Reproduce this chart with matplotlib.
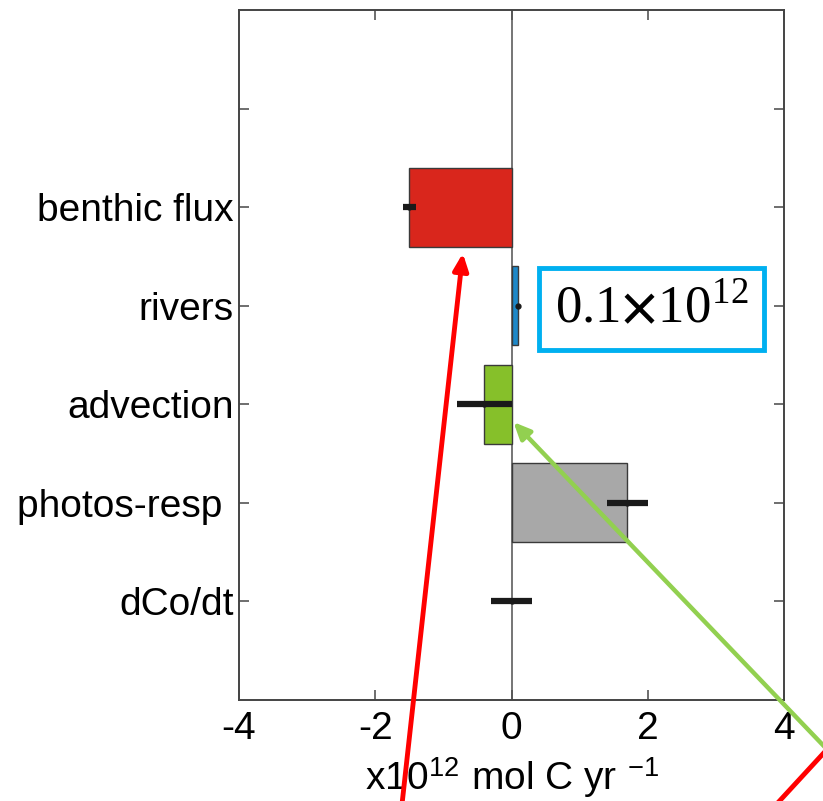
import matplotlib
matplotlib.use("Agg")
import matplotlib.pyplot as plt

# categories from top to bottom (first slot is an empty tick)
labels = ['', 'benthic flux', 'rivers', 'advection', 'photos-resp ', 'dCo/dt']
positions = [1, 2, 3, 4, 5, 6]

# bars (x10^12 mol C / yr)
bar_pos = [2, 3, 4, 5]
bar_vals = [-1.5, 0.1, -0.4, 1.7]
bar_colors = ['#d9261c', '#1e88c8', '#86c02a', '#a8a8a8']

# error bars
err_pos = [2, 3, 4, 5, 6]
err_center = [-1.5, 0.1, -0.4, 1.7, 0.0]
err_half = [0.1, 0.0, 0.4, 0.3, 0.3]

plt.rcParams['font.family'] = ['Liberation Sans', 'DejaVu Sans']
plt.rcParams['axes.unicode_minus'] = False
plt.rcParams['mathtext.fontset'] = 'stix'

fig = plt.figure(figsize=(8.23, 8.01), dpi=100)
ax = fig.add_axes([239 / 823, 1 - 700 / 801, 545 / 823, 690 / 801])

ax.axvline(0, color='#6a6a6a', lw=1.3, zorder=1)
ax.barh(bar_pos, bar_vals, height=0.8, color=bar_colors,
        edgecolor='#3a3a3a', linewidth=1.0, zorder=2)
ax.errorbar(err_center, err_pos, xerr=err_half, fmt='o', ms=3.5,
            color='#1a1a1a', ecolor='#1a1a1a', elinewidth=4.5, capsize=0, zorder=3)

ax.set_xlim(-4, 4)
ax.set_ylim(7, 0)
ax.set_xticks([-4, -2, 0, 2, 4])
ax.set_yticks(positions)
ax.set_yticklabels(labels)
ax.tick_params(direction='in', length=7, width=1.2, color='#555555',
               top=True, right=True, labelsize=28, pad=4)
ax.tick_params(axis='x', pad=8)
for s in ax.spines.values():
    s.set_color('#444444')
    s.set_linewidth(1.4)

ax.set_xlabel(r'x10$^{\mathregular{12}}$ mol C yr $^{\mathregular{-1}}$',
              fontsize=28, labelpad=6)

# callout box
ax.text(2.06, 3.03, r'0.1$\mathbf{\times}$10$^{\mathregular{12}}$', fontsize=38,
        family='Liberation Serif', ha='center', va='center', zorder=5,
        bbox=dict(boxstyle='square,pad=0.3', facecolor='white',
                  edgecolor='#00b0f0', linewidth=3.5))

# arrows from the surrounding slide
ax.annotate('', xy=(-0.71, 2.44), xytext=(-1.63, 8.2), annotation_clip=False,
            arrowprops=dict(arrowstyle='-|>,head_length=1.0,head_width=0.45',
                            color='#ff0000', lw=3.5))
ax.annotate('', xy=(0.0, 4.16), xytext=(4.7, 7.55), annotation_clip=False,
            arrowprops=dict(arrowstyle='-|>,head_length=1.0,head_width=0.45',
                            color='#92d050', lw=3.2))
ax.annotate('', xy=(4.7, 7.45), xytext=(3.7, 8.2), annotation_clip=False,
            arrowprops=dict(arrowstyle='-', color='#ff0000', lw=3.5))

fig.savefig('out.png', dpi=100)
